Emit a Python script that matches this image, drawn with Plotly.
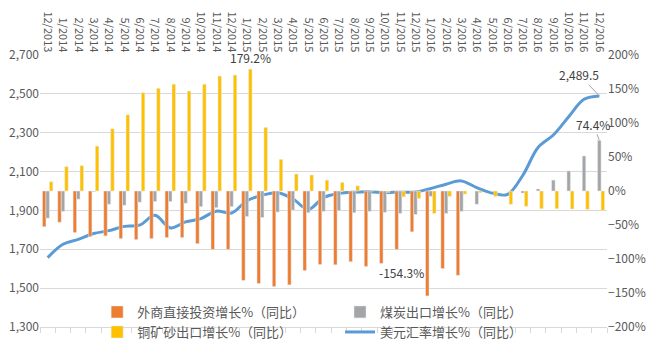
import plotly.graph_objects as go

months = ["12/2013",
          "1/2014", "2/2014", "3/2014", "4/2014", "5/2014", "6/2014", "7/2014", "8/2014", "9/2014", "10/2014", "11/2014", "12/2014",
          "1/2015", "2/2015", "3/2015", "4/2015", "5/2015", "6/2015", "7/2015", "8/2015", "9/2015", "10/2015", "11/2015", "12/2015",
          "1/2016", "2/2016", "3/2016", "4/2016", "5/2016", "6/2016", "7/2016", "8/2016", "9/2016", "10/2016", "11/2016", "12/2016"]

fdi_growth = [-52.5, -46, -61, -67, -66, -70, -71.5, -70, -68.5, -68.5, -77.5, -86, -86,
              -131.5, -136, -140.5, -138, -117, -108, -108.5, -104, -111, -106.5, -86, -60,
              -154.3, -114, -124, None, None, None, None, None, None, None, None, None]

coal_growth = [-40, -30, -12, -1, -19.5, -21, -16.5, -15.5, -15.5, -18, -23, -24.5, -23,
               -37.5, -39, -31, -28, -32, -30, -29, -32, -30, -31.5, -33, -34.5,
               -8, -33, -30, -19.5, 0, 0, -3, 3, 16, 29.5, 51.5, 74.4]

copper_growth = [13.7, 35.8, 37.2, 66, 91.5, 112, 144.5, 151, 157, 147, 157, 169, 170.5,
                 179.2, 93.5, 46.5, 25, 23.5, 16, 12.7, 7.6, 1, -2, -8.5, -11,
                 -33, -8, -4.4, -2.5, -8, -19.6, -22.5, -26, -26, -26.5, -27, -28.5]

usd_rate = [1657, 1726, 1751, 1781, 1796, 1818, 1824, 1875, 1810, 1841, 1858, 1896, 1887,
            1950, 1978, 1991, 1960, 1905, 1966, 1987, 1994, 1996, 1992, 1994, 1995,
            2013, 2035, 2052, 2017, 1990, 1982, 2080, 2224, 2288, 2382, 2472, 2489.5]

names = ["外商直接投资增长%（同比）", "煤炭出口增长%（同比）", "铜矿砂出口增长%（同比）", "美元汇率增长%（同比）"]

FONT = "Noto Sans CJK SC"
TXT = "#595959"
GRID = "#d9d9d9"

fig = go.Figure()
fig.add_trace(go.Bar(x=months, y=fdi_growth, name=names[0], marker_color="#ED7D31",
                     yaxis="y2", legend="legend"))
fig.add_trace(go.Bar(x=months, y=coal_growth, name=names[1], marker_color="#A5A5A5",
                     yaxis="y2", legend="legend2"))
fig.add_trace(go.Bar(x=months, y=copper_growth, name=names[2], marker_color="#FFC000",
                     yaxis="y2", legend="legend3"))
fig.add_trace(go.Scatter(x=months, y=usd_rate, name=names[3], mode="lines",
                         line=dict(color="#5B9BD5", width=3, shape="spline", smoothing=1),
                         yaxis="y", legend="legend4"))
# helper trace so the bottom tick axis renders
fig.add_trace(go.Scatter(x=months, y=usd_rate, xaxis="x2", yaxis="y", mode="markers",
                         marker=dict(opacity=0, size=1), showlegend=False, hoverinfo="skip"))

fig.add_annotation(x=months[13], y=copper_growth[13], yref="y2", text="179.2%", showarrow=False,
                   yanchor="bottom", yshift=1, xshift=4, font=dict(size=12, color="#404040", family=FONT))
fig.add_annotation(x=months[25], y=fdi_growth[25], yref="y2", text="-154.3%", showarrow=False,
                   xanchor="right", yanchor="middle", xshift=-5, yshift=23,
                   font=dict(size=12, color="#404040", family=FONT))
fig.add_annotation(x=months[36], y=usd_rate[36], yref="y", text="2,489.5", showarrow=True,
                   arrowhead=0, arrowwidth=1, arrowcolor="#a6a6a6", ax=-20, ay=-21,
                   font=dict(size=12, color="#404040", family=FONT))
fig.add_annotation(x=months[36], y=coal_growth[36], yref="y2", text="74.4%", showarrow=True,
                   arrowhead=0, arrowwidth=1, arrowcolor="#a6a6a6", ax=-6, ay=-16,
                   font=dict(size=12, color="#404040", family=FONT))

leg_common = dict(xref="container", yref="container", xanchor="left", yanchor="middle",
                  bgcolor="rgba(0,0,0,0)", font=dict(size=13, color=TXT, family=FONT))

fig.update_layout(
    width=652, height=352,
    margin=dict(l=40, r=45, t=55, b=25, autoexpand=False),
    paper_bgcolor="white", plot_bgcolor="white",
    font=dict(family=FONT, size=12, color=TXT),
    barmode="group", bargap=0.32, bargroupgap=0,
    xaxis=dict(type="category", side="top", tickangle=90, tickfont=dict(size=11, color=TXT),
               showline=False, ticks="", showgrid=False, range=[-0.5, 36.5], automargin=False),
    xaxis2=dict(type="category", overlaying="x", side="bottom", anchor="y", matches="x",
                showticklabels=False, ticks="outside", ticklen=5, tickcolor=GRID,
                tickson="boundaries", showline=True, linecolor=GRID, showgrid=False,
                automargin=False),
    yaxis=dict(range=[1300, 2700], tick0=1300, dtick=200, tickformat=",", gridcolor=GRID,
               zeroline=False, showline=False, ticks="", automargin=False,
               tickfont=dict(size=12, color=TXT)),
    yaxis2=dict(overlaying="y", side="right", range=[-200, 200], dtick=50, ticksuffix="%",
                showgrid=False, zeroline=False, showline=False, ticks="", automargin=False,
                tickfont=dict(size=12, color=TXT)),
    legend=dict(x=0.149, y=1 - 312 / 352, **leg_common),
    legend2=dict(x=0.5215, y=1 - 312 / 352, **leg_common),
    legend3=dict(x=0.149, y=1 - 332 / 352, **leg_common),
    legend4=dict(x=0.5215, y=1 - 332 / 352, **leg_common),
    showlegend=True,
)

fig.write_html("out.html")
